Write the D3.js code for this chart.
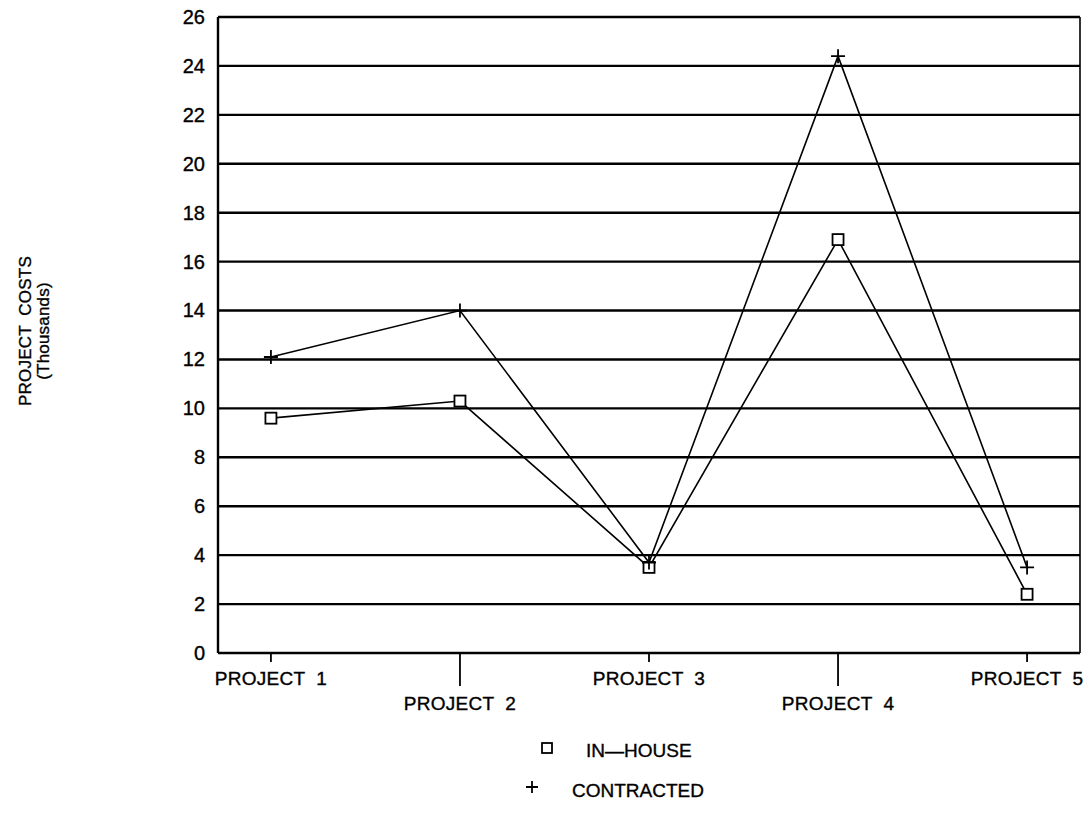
<!DOCTYPE html>
<html>
<head>
<meta charset="utf-8">
<script src="https://cdn.jsdelivr.net/npm/d3@7"></script>
<style>
  html, body { margin: 0; padding: 0; background: #fff; }
  svg { display: block; }
  text { font-family: "Liberation Sans", Arial, sans-serif; fill: #000; stroke: #000; stroke-width: 0.35px; }
</style>
</head>
<body>
<svg id="chart" width="1090" height="813"></svg>
<script>
const categories = ["PROJECT 1", "PROJECT 2", "PROJECT 3", "PROJECT 4", "PROJECT 5"];
const inHouse = [9.6, 10.3, 3.5, 16.9, 2.4];
const contracted = [12.1, 14.0, 3.7, 24.4, 3.5];
const yTicks = [0, 2, 4, 6, 8, 10, 12, 14, 16, 18, 20, 22, 24, 26];
const seriesNames = ["IN\u2014HOUSE", "CONTRACTED"];

(function () {
const svg = d3.select("#chart");
const pLeft = 218, pRight = 1080, pTop = 17, pBottom = 653;

const x = d3.scalePoint().domain(categories).range([pLeft, pRight]).padding(0.28);
const y = d3.scaleLinear().domain([0, 26]).range([pBottom, pTop]);

// gridlines
svg.append("g").selectAll("line").data(yTicks).join("line")
  .attr("x1", pLeft).attr("x2", pRight)
  .attr("y1", d => y(d)).attr("y2", d => y(d))
  .attr("stroke", "#000").attr("stroke-width", 2.4);

// frame
svg.append("line").attr("x1", pLeft).attr("x2", pLeft).attr("y1", pTop).attr("y2", pBottom)
  .attr("stroke", "#000").attr("stroke-width", 2.4);
svg.append("line").attr("x1", pRight).attr("x2", pRight).attr("y1", pTop).attr("y2", pBottom)
  .attr("stroke", "#000").attr("stroke-width", 1.6);

// y axis labels
const yAxis = d3.axisLeft(y).tickValues(yTicks).tickSize(0).tickPadding(13);
const yg = svg.append("g").attr("transform", `translate(${pLeft},0)`).call(yAxis);
yg.select(".domain").remove();
yg.attr("font-size", null).attr("font-family", null);
yg.selectAll("text").style("font-size", "20px").attr("fill", "#000");

// x axis ticks and labels (alternating)
const xg = svg.append("g");
categories.forEach((c, i) => {
  const lower = i % 2 === 1;
  xg.append("line").attr("x1", x(c)).attr("x2", x(c))
    .attr("y1", pBottom).attr("y2", lower ? pBottom + 33 : pBottom + 9)
    .attr("stroke", "#000").attr("stroke-width", 1.8);
  xg.append("text").attr("x", x(c)).attr("y", lower ? pBottom + 57 : pBottom + 32)
    .attr("text-anchor", "middle").style("font-size", "19px").style("letter-spacing", "0.3px")
    .style("white-space", "pre").text(c.replace(" ", "  "));
});

// y axis title
const tg = svg.append("g").attr("transform", "translate(0,331) rotate(-90)");
tg.append("text").attr("x", 0).attr("y", 31).attr("text-anchor", "middle")
  .style("font-size", "17px").style("letter-spacing", "0.2px").style("white-space", "pre").text("PROJECT  COSTS");
tg.append("text").attr("x", 0).attr("y", 49).attr("text-anchor", "middle")
  .style("font-size", "17px").style("letter-spacing", "0.2px").text("(Thousands)");

// lines
const line = d3.line().x((d, i) => x(categories[i])).y(d => y(d));
[inHouse, contracted].forEach(s => {
  svg.append("path").datum(s).attr("d", line)
    .attr("fill", "none").attr("stroke", "#000").attr("stroke-width", 1.6);
});

// markers
const sq = 11;
svg.append("g").selectAll("rect").data(inHouse).join("rect")
  .attr("x", (d, i) => x(categories[i]) - sq / 2).attr("y", d => y(d) - sq / 2)
  .attr("width", sq).attr("height", sq)
  .attr("fill", "#fff").attr("stroke", "#000").attr("stroke-width", 1.8);

const pl = 7;
svg.append("g").selectAll("path").data(contracted).join("path")
  .attr("d", (d, i) => {
    const cx = x(categories[i]), cy = y(d);
    return `M${cx - pl},${cy}H${cx + pl}M${cx},${cy - pl}V${cy + pl}`;
  })
  .attr("stroke", "#000").attr("stroke-width", 1.8).attr("fill", "none");

// legend
const lg = svg.append("g");
lg.append("rect").attr("x", 547 - 5).attr("y", 748 - 5).attr("width", 10).attr("height", 10)
  .attr("fill", "#fff").attr("stroke", "#000").attr("stroke-width", 1.8);
lg.append("text").attr("x", 586).attr("y", 757).style("font-size", "19px").text(seriesNames[0]);
lg.append("path").attr("d", `M${532 - 6},787H${532 + 6}M532,${787 - 6}V${787 + 6}`)
  .attr("stroke", "#000").attr("stroke-width", 1.8);
lg.append("text").attr("x", 572).attr("y", 797).style("font-size", "19px").text(seriesNames[1]);
})();
</script>
</body>
</html>
